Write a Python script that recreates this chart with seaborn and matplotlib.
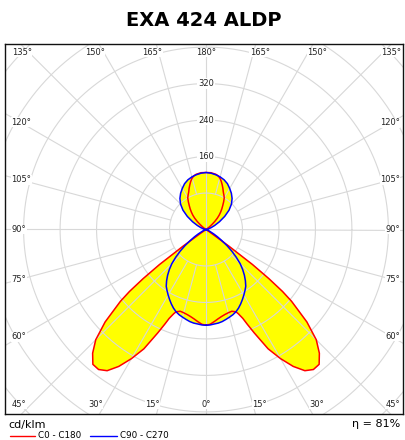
import numpy as np
import seaborn as sns
import matplotlib.pyplot as plt

# Lichtstärkeverteilung (cd/klm), Winkel gamma 0..180, symmetrisch gespiegelt
gamma_c0 = [0, 2.5, 5, 7.5, 10, 12.5, 15, 17.5, 20, 21, 22.5, 23.5, 25, 27.5, 30,
            32.5, 35, 37.5, 40, 42.5, 45, 47.5, 50, 51, 52, 53, 54, 55, 56, 60, 90,
            120, 122.5, 125, 127.5, 130, 132.5, 135, 137.5, 140, 142.5, 145, 147.5,
            150, 152.5, 155, 157.5, 160, 162.5, 165, 167.5, 170, 175, 180]
cd_c0 = [210, 208, 203, 198, 194, 191, 189, 188, 192, 198, 211, 226, 250, 295, 327,
         356, 378, 387, 386, 368, 342, 300, 245, 216, 175, 128, 62, 15, 0, 0, 0,
         0, 2, 5, 10, 17, 26, 35, 43, 50, 57, 64, 72,
         80, 85, 90, 97, 104, 111, 117, 121, 123, 125, 125]

gamma_c90 = [0, 2.5, 5, 7.5, 10, 12.5, 15, 17.5, 20, 22.5, 25, 27.5, 30, 32.5, 35,
             37.5, 40, 42.5, 45, 47.5, 50, 52.5, 55, 57.5, 60, 65, 70, 75, 90,
             95, 100, 105, 110, 115, 120, 125, 130, 135, 140, 145, 150, 155, 160,
             165, 170, 175, 180]
cd_c90 = [210, 209.5, 208, 207, 205, 202, 199, 196, 192, 186.5, 180, 173, 166, 159, 152,
          142, 131, 119, 106, 90, 74, 58, 42, 30, 20, 8, 3, 0, 0,
          1, 3, 6, 12, 21, 34, 50, 66, 79, 89, 97, 104, 111, 116,
          119.5, 122, 124, 125]

ring_values = [80, 160, 240, 320, 400, 480, 560, 640]
ring_labels = [160, 240, 320]
angle_step = 15
title = 'EXA 424 ALDP'
unit_text = 'cd/klm'
eta_text = 'η = 81%'
legend_labels = ['C0 - C180', 'C90 - C270']
legend_colors = ['#ff0000', '#0000ff']

# Layout in Pixeln (405 x 440)
W, H = 405, 440
L, R, T, B = 5, 403, 44, 414
CX, CY = 206, 229.5
S = 0.456  # px pro cd/klm


def px2data(px, py):
    return (px - CX) / S, (CY - py) / S


def polar_xy(gamma, vals):
    g = np.radians(np.asarray(gamma, dtype=float))
    v = np.asarray(vals, dtype=float)
    xr, yr = v * np.sin(g), -v * np.cos(g)
    # rechte Hälfte 0..180, linke Hälfte 180..0
    x = np.concatenate([xr, -xr[::-1]])
    y = np.concatenate([yr, yr[::-1]])
    return x, y


sns.set_style('white')
plt.rcParams['font.family'] = ['DejaVu Sans']
plt.rcParams['text.color'] = 'black'

fig = plt.figure(figsize=(W / 100, H / 100), dpi=100)
ax = fig.add_axes([L / W, 1 - B / H, (R - L) / W, (B - T) / H])
x0, y1 = px2data(L, T)
x1, y0 = px2data(R, B)
ax.set_xlim(x0, x1)
ax.set_ylim(y0, y1)
ax.set_xticks([])
ax.set_yticks([])
for sp in ax.spines.values():
    sp.set_visible(True)
    sp.set_color('#111111')
    sp.set_linewidth(1.0)

# Füllung
for gam, vals in [(gamma_c0, cd_c0), (gamma_c90, cd_c90)]:
    x, y = polar_xy(gam, vals)
    ax.fill(x, y, color='#ffff00', lw=0, zorder=1)

# Raster
grid_kw = dict(color='#d8d8d8', lw=0.8, zorder=2)
t = np.linspace(0, 2 * np.pi, 400)
for r in ring_values:
    ax.plot(r * np.cos(t), r * np.sin(t), **grid_kw)
for a in range(0, 360, angle_step):
    ar = np.radians(a)
    r_start = 0 if a % 90 == 0 else ring_values[0]
    ax.plot([r_start * np.sin(ar), 800 * np.sin(ar)],
            [-r_start * np.cos(ar), -800 * np.cos(ar)], **grid_kw)

# Kurven
for (gam, vals), col in zip([(gamma_c0, cd_c0), (gamma_c90, cd_c90)], legend_colors):
    x, y = polar_xy(gam, vals)
    sns.lineplot(x=x, y=y, sort=False, estimator=None, color=col, lw=1.1,
                 ax=ax, zorder=3, legend=False)

# Radiale Beschriftung
for v in ring_labels:
    ax.text(0, v, str(v), fontsize=6, ha='center', va='center', zorder=4,
            color='#222222', bbox=dict(facecolor='white', edgecolor='none', pad=0.6))

# Winkelbeschriftung
lab_kw = dict(fontsize=6, zorder=5, color='#222222',
              bbox=dict(facecolor='white', edgecolor='none', pad=0.3))
for side in (-1, 1):
    for g in (135, 150, 165, 180):
        if g == 180 and side == 1:
            continue
        gr = np.radians(g)
        tt = (CY - T) / (-np.cos(gr))
        px = CX + side * np.sin(gr) * tt
        px += side * 4 if g != 180 else 0
        px = min(max(px, L + 17), R - 12)
        ax.text(*px2data(px, T + 8.5), f'{g}°', ha='center', va='center', **lab_kw)
    for g in (0, 15, 30, 45):
        if g == 0 and side == 1:
            continue
        gr = np.radians(g)
        tt = (B - CY) / np.cos(gr)
        px = CX + side * np.sin(gr) * tt
        px += side * 4 if g != 0 else 0
        px = min(max(px, L + 14), R - 10)
        ax.text(*px2data(px, B - 9.5), f'{g}°', ha='center', va='center', **lab_kw)
    for g in (60, 75, 90, 105, 120):
        gr = np.radians(g)
        if side == -1:
            tt = (CX - (L + 15)) / np.sin(gr)
            px, ha = L + 6.5, 'left'
        else:
            tt = ((R - 12) - CX) / np.sin(gr)
            px, ha = R - 3, 'right'
        py = CY + np.cos(gr) * tt
        ax.text(*px2data(px, py), f'{g}°', ha=ha, va='center', **lab_kw)

# Titel und Fußzeile
fig.text(204 / W, 1 - 20 / H, title, fontsize=14, fontweight='black',
         ha='center', va='center')
fig.text(8 / W, 1 - 424.5 / H, unit_text, fontsize=8, ha='left', va='center')
fig.text(400 / W, 1 - 424 / H, eta_text, fontsize=8, ha='right', va='center')

ly = 1 - 435.5 / H
fig.add_artist(plt.Line2D([10 / W, 35 / W], [ly, ly], color=legend_colors[0], lw=1.0))
fig.text(38 / W, 1 - 435.5 / H, legend_labels[0], fontsize=6.3, ha='left', va='center')
fig.add_artist(plt.Line2D([90 / W, 117 / W], [ly, ly], color=legend_colors[1], lw=1.0))
fig.text(120 / W, 1 - 435.5 / H, legend_labels[1], fontsize=6.3, ha='left', va='center')

fig.savefig('out.png', dpi=100)
plt.close(fig)
